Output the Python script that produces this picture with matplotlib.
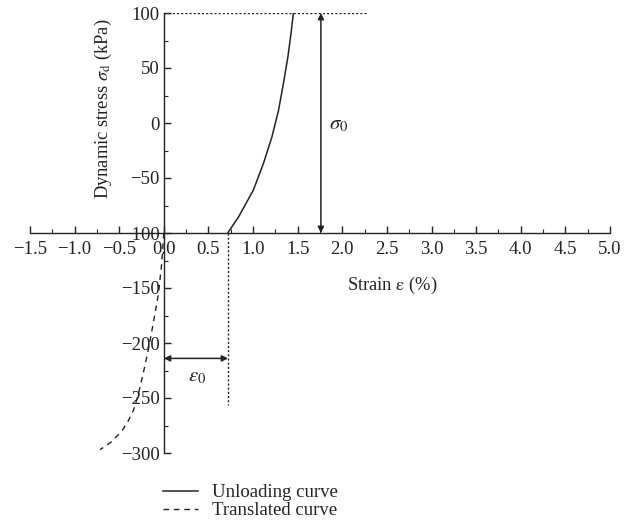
import matplotlib
matplotlib.use("Agg")
import matplotlib.pyplot as plt
from matplotlib.lines import Line2D
from matplotlib.ticker import MultipleLocator, FuncFormatter

plt.rcParams['font.family'] = ['Liberation Serif', 'DejaVu Serif']
plt.rcParams['mathtext.fontset'] = 'stix'
plt.rcParams['axes.unicode_minus'] = True

# Data
unload_strain = [0.716, 0.84, 1.003, 1.115, 1.21, 1.284, 1.34, 1.39, 1.426, 1.452]
unload_stress = [-100, -85, -61, -37, -13, 11, 36, 60, 82, 100]
trans_strain = [0.0, -0.024, -0.06, -0.118, -0.174, -0.21, -0.25, -0.29, -0.34, -0.40, -0.47, -0.59, -0.715]
trans_stress = [-100, -127.5, -155, -182, -206, -220, -234, -248, -261, -271, -280, -290, -297]

eps0 = 0.72
sigma_top = 100
sigma_base = -100
arrow_x = 1.76
eps_arrow_y = -214

C = '#222222'

fig = plt.figure(figsize=(6.35, 5.28), dpi=100)
ax = fig.add_axes([30/635, 1-453/528, 580/635, 440/528])
ax.set_xlim(-1.5, 5.0)
ax.set_ylim(-300, 100)

ax.spines['top'].set_visible(False)
ax.spines['right'].set_visible(False)
ax.spines['left'].set_position(('data', 0))
ax.spines['bottom'].set_position(('data', -100))
for s in ('left', 'bottom'):
    ax.spines[s].set_linewidth(1.0)
    ax.spines[s].set_color(C)

def fmt_x(v, pos):
    s = f'{abs(v):.1f}'
    return ('\u2212' + s) if v < -1e-9 else s

def fmt_y(v, pos):
    s = f'{abs(v):.0f}'
    return ('\u2212' + s) if v < -1e-9 else s

ax.xaxis.set_major_locator(MultipleLocator(0.5))
ax.xaxis.set_minor_locator(MultipleLocator(0.25))
ax.yaxis.set_major_locator(MultipleLocator(50))
ax.yaxis.set_minor_locator(MultipleLocator(25))
ax.xaxis.set_major_formatter(FuncFormatter(fmt_x))
ax.yaxis.set_major_formatter(FuncFormatter(fmt_y))
ax.tick_params(axis='both', which='major', direction='in', length=5, width=1.0,
               labelsize=13.5, colors=C)
ax.tick_params(axis='both', which='minor', direction='in', length=3, width=0.8,
               colors=C)
ax.tick_params(axis='x', pad=6)
ax.tick_params(axis='y', pad=3)

# curves
ax.plot(unload_strain, unload_stress, color=C, lw=1.1, solid_joinstyle='round')
ax.plot(trans_strain, trans_stress, color=C, lw=1.0, ls=(0, (4, 3.5)))

# reference dotted lines
ax.plot([0, 2.26], [sigma_top, sigma_top], color=C, lw=1.0, ls=(0, (1.5, 1.5)))
ax.plot([eps0, eps0], [-100, -256], color=C, lw=1.0, ls=(0, (1.5, 1.5)))

# arrows
ax.annotate('', xy=(arrow_x, sigma_top), xytext=(arrow_x, sigma_base),
            arrowprops=dict(arrowstyle='<|-|>', color=C, lw=1.1,
                            mutation_scale=9, shrinkA=0, shrinkB=0))
ax.annotate('', xy=(0, eps_arrow_y), xytext=(eps0, eps_arrow_y),
            arrowprops=dict(arrowstyle='<|-|>', color=C, lw=1.1,
                            mutation_scale=9, shrinkA=0, shrinkB=0))
ax.text(1.96, -2, r'$\sigma_0$', fontsize=15, ha='center', va='center', color=C)
ax.text(0.37, -231, r'$\varepsilon_0$', fontsize=15, ha='center', va='center', color=C)

# axis labels
fig.text(103/635, 1-109/528, r'Dynamic stress $\sigma_\mathrm{d}$ (kPa)', rotation=90,
         ha='center', va='center', fontsize=13.3, color=C)
fig.text(392/635, 1-285/528, r'Strain $\mathrm{\varepsilon}$ (%)',
         ha='center', va='center', fontsize=13.3, color=C)

handles = [Line2D([0], [0], color=C, lw=1.1),
           Line2D([0], [0], color=C, lw=1.0, ls=(0, (4, 3.5)))]
fig.legend(handles, ['Unloading curve', 'Translated curve'], loc='upper left',
           bbox_to_anchor=(163/635, 1-484/528), frameon=False, fontsize=13.5,
           handlelength=1.87, handletextpad=0.75, labelspacing=0.05, borderpad=0,
           borderaxespad=0, labelcolor=C)

fig.savefig('out.png', dpi=100)
